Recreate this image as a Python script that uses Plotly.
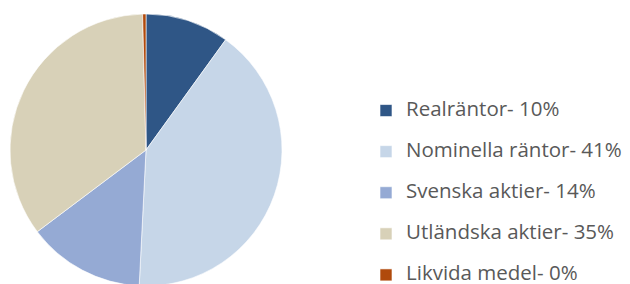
import plotly.graph_objects as go

labels = ["Realräntor- 10%", "Nominella räntor- 41%", "Svenska aktier- 14%",
          "Utländska aktier- 35%", "Likvida medel- 0%"]
values = [10, 41, 14, 35, 0.4]
colors = ["#2F5686", "#C6D6E8", "#95AAD4", "#D8D1B8", "#B04A0C"]

legend_labels = ['<span style="font-size:20.5px;baseline-shift:6px">%s</span>' % t
                 for t in labels]

W, H = 630, 284

fig = go.Figure(go.Pie(
    labels=legend_labels,
    values=values,
    sort=False,
    direction="clockwise",
    rotation=0,
    textinfo="none",
    hoverinfo="label+percent",
    marker=dict(colors=colors, line=dict(color="white", width=0.6)),
    domain=dict(x=[2 / W, 274 / W], y=[6 / H, 278 / H]),
))

fig.update_layout(
    width=W, height=H,
    margin=dict(l=0, r=0, t=0, b=0, autoexpand=False),
    paper_bgcolor="white",
    plot_bgcolor="white",
    font=dict(family="'Open Sans', sans-serif", color="#595959"),
    legend=dict(
        x=358 / W, y=-9 / H, xanchor="left", yanchor="bottom",
        maxheight=400,
        font=dict(size=29.3, color="#595959", family="'Open Sans', sans-serif"),
        bgcolor="rgba(0,0,0,0)",
        traceorder="normal",
    ),
    showlegend=True,
)

fig.write_html("out.html")
